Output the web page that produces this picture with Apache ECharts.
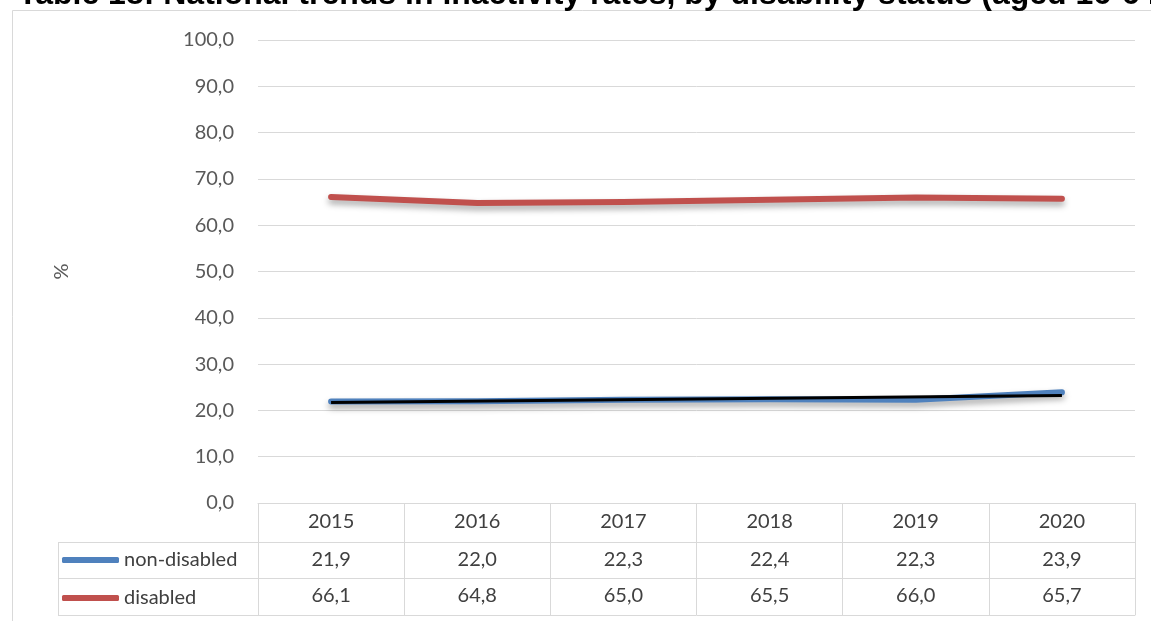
<!DOCTYPE html>
<html>
<head>
<meta charset="utf-8">
<script src="https://cdn.jsdelivr.net/npm/echarts@6/dist/echarts.min.js"></script>
<style>
  html, body { margin: 0; padding: 0; background: #fff; }
  #chart { width: 1151px; height: 621px; }
</style>
</head>
<body>
<div id="chart"></div>
<script>
// data
var years = ['2015', '2016', '2017', '2018', '2019', '2020'];
var nonDisabled = [21.9, 22.0, 22.3, 22.4, 22.3, 23.9];
var disabled = [66.1, 64.8, 65.0, 65.5, 66.0, 65.7];
// black linear trend drawn over non-disabled (first and last year)
var trendNonDisabled = [21.7, 23.2];
var yTicks = [0, 10, 20, 30, 40, 50, 60, 70, 80, 90, 100];

var fmt = function (v) { return Number(v).toFixed(1).replace('.', ','); };

var trendData = years.map(function (y, i) {
  if (i === 0) return trendNonDisabled[0];
  if (i === years.length - 1) return trendNonDisabled[1];
  return null;
});

var gridLine = '#d9d9d9';
var textCol = '#404040';
var font = 'Lato';

// grid edges (layout only)
var G = { left: 258, right: 16, top: 40, bottom: 118 };
var rowTop = 621 - G.bottom; // 503

function tableAxis(offset, tickLen, values, showLabel, margin) {
  return {
    type: 'category',
    gridIndex: 0,
    position: 'bottom',
    offset: offset,
    data: years,
    boundaryGap: true,
    axisLine: { show: true, lineStyle: { color: gridLine, width: 1 } },
    axisTick: { show: tickLen > 0, interval: 0, length: tickLen, lineStyle: { color: gridLine } },
    axisLabel: {
      show: showLabel,
      interval: 0,
      margin: margin,
      fontSize: 20,
      fontFamily: font,
      color: textCol,
      formatter: values ? function (v, i) { return fmt(values[i]); } : null
    },
    splitLine: { show: false }
  };
}

var chart = echarts.init(document.getElementById('chart'));
chart.setOption({
  animation: false,
  backgroundColor: '#fff',
  title: {
    text: 'Table 18: National trends in inactivity rates, by disability status (aged 16-64)',
    left: 13,
    top: -26,
    textStyle: { fontFamily: 'Liberation Sans', fontWeight: 'bold', fontSize: 32, color: '#000' }
  },
  grid: { left: G.left, right: G.right, top: G.top, bottom: G.bottom, containLabel: false },
  legend: {
    orient: 'vertical',
    left: 57,
    top: 545,
    itemGap: 18,
    itemWidth: 57,
    itemHeight: 6,
    icon: 'roundRect',
    data: ['non-disabled', 'disabled'],
    textStyle: { fontSize: 20, fontFamily: font, color: textCol }
  },
  xAxis: [
    tableAxis(0, 39, null, true, 9),
    tableAxis(39, 36, nonDisabled, true, 8),
    tableAxis(75, 37, disabled, true, 8),
    tableAxis(112, 0, null, false, 8)
  ],
  yAxis: {
    type: 'value',
    min: 0,
    max: 100,
    interval: 10,
    name: '%',
    nameLocation: 'middle',
    nameGap: 186,
    nameRotate: 90,
    nameTextStyle: { fontSize: 20, fontFamily: font, color: '#595959' },
    axisLine: { show: false },
    axisTick: { show: false },
    axisLabel: {
      margin: 24,
      fontSize: 20,
      fontFamily: font,
      color: '#595959',
      formatter: function (v) { return yTicks.indexOf(v) >= 0 ? fmt(v) : ''; }
    },
    splitLine: { lineStyle: { color: gridLine, width: 1 } }
  },
  series: [
    {
      name: 'non-disabled',
      type: 'line',
      data: nonDisabled,
      symbol: 'none',
      color: '#4f81bd',
      lineStyle: {
        width: 6, cap: 'round', join: 'round', color: '#4f81bd',
        shadowColor: 'rgba(0,0,0,0.35)', shadowBlur: 6, shadowOffsetY: 4
      },
      z: 3
    },
    {
      name: 'disabled',
      type: 'line',
      data: disabled,
      symbol: 'none',
      color: '#c0504d',
      lineStyle: {
        width: 6, cap: 'round', join: 'round', color: '#c0504d',
        shadowColor: 'rgba(0,0,0,0.35)', shadowBlur: 6, shadowOffsetY: 4
      },
      z: 3
    },
    {
      name: 'trend',
      type: 'line',
      data: trendData,
      connectNulls: true,
      symbol: 'none',
      color: '#000',
      lineStyle: { width: 3, color: '#000' },
      z: 4
    }
  ],
  graphic: [
    // outer chart border (runs off the right and bottom edges)
    { type: 'rect', z: -10, silent: true, shape: { x: 12.5, y: 10.5, width: 1300, height: 800 },
      style: { fill: null, stroke: gridLine, lineWidth: 1 } },
    // left column of the data table
    { type: 'line', silent: true, shape: { x1: 58.5, y1: rowTop + 39, x2: 58.5, y2: rowTop + 112 },
      style: { stroke: gridLine, lineWidth: 1 } },
    { type: 'line', silent: true, shape: { x1: 58, y1: rowTop + 39.5, x2: G.left, y2: rowTop + 39.5 },
      style: { stroke: gridLine, lineWidth: 1 } },
    { type: 'line', silent: true, shape: { x1: 58, y1: rowTop + 75.5, x2: G.left, y2: rowTop + 75.5 },
      style: { stroke: gridLine, lineWidth: 1 } },
    { type: 'line', silent: true, shape: { x1: 58, y1: rowTop + 112.5, x2: G.left, y2: rowTop + 112.5 },
      style: { stroke: gridLine, lineWidth: 1 } }
  ]
});
</script>
</body>
</html>
